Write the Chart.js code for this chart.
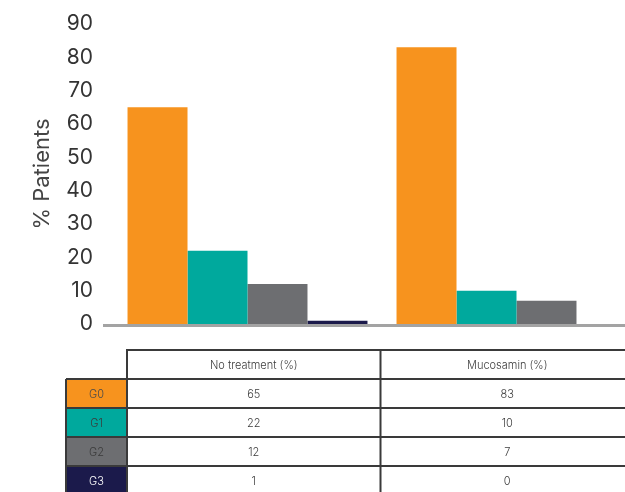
<!DOCTYPE html>
<html>
<head>
<meta charset="utf-8">
<script src="https://cdn.jsdelivr.net/npm/chart.js@4/dist/chart.umd.min.js"></script>
<style>
  html, body { margin: 0; padding: 0; background: #fff; overflow: hidden; }
  #wrap { width: 680px; height: 492px; }
</style>
</head>
<body>
<div id="wrap"><canvas id="chart" width="680" height="492"></canvas></div>
<script>
var categories = ['No treatment (%)', 'Mucosamin (%)'];
var grades = ['G0', 'G1', 'G2', 'G3'];
var g0 = [65, 83];
var g1 = [22, 10];
var g2 = [12, 7];
var g3 = [1, 0];
var gradeColors = ['#F7931E', '#00A99D', '#6D6E71', '#1B1A4B'];
var gradeTextColors = ['#4a4a4a', '#3a3a3a', '#3a3a3a', '#ffffff'];

var FONT = 'Inter, "DejaVu Sans", sans-serif';

// baseline + data table under the plot
var tablePlugin = {
	id: 'tablePlugin',
	afterDraw: function(chart) {
		var ctx = chart.ctx;
		var y = chart.scales.y;
		var x = chart.scales.x;
		var zeroY = y.getPixelForValue(0);

		ctx.save();
		// grey baseline
		ctx.fillStyle = '#a3a3a3';
		ctx.fillRect(103, zeroY, chart.width - 103, 3);

		var left = 127;
		var mid = (x.getPixelForValue(0) + x.getPixelForValue(1)) / 2 - 1.5;
		var colW = mid - left;
		var right = mid + colW;
		var labelLeft = 66;
		var top = 350;
		var rowH = 29;
		var nRows = grades.length;

		// grade label cells
		for (var i = 0; i < nRows; i++) {
			ctx.fillStyle = gradeColors[i];
			ctx.fillRect(labelLeft, top + rowH * (i + 1), left - labelLeft, rowH);
		}

		ctx.strokeStyle = '#3a3a3a';
		ctx.lineWidth = 2;
		ctx.beginPath();
		ctx.moveTo(left, top + rowH * (nRows + 1) + 5);
		ctx.lineTo(left, top);
		ctx.lineTo(right, top);
		ctx.moveTo(mid, top);
		ctx.lineTo(mid, top + rowH * (nRows + 1) + 5);
		ctx.moveTo(right, top);
		ctx.lineTo(right, top + rowH * (nRows + 1) + 5);
		for (var r = 1; r <= nRows + 1; r++) {
			ctx.moveTo(labelLeft, top + rowH * r);
			ctx.lineTo(right, top + rowH * r);
		}
		ctx.moveTo(labelLeft, top + rowH);
		ctx.lineTo(labelLeft, top + rowH * (nRows + 1) + 5);
		ctx.stroke();

		ctx.textAlign = 'center';
		ctx.textBaseline = 'middle';
		ctx.font = '300 11px ' + FONT;
		var centers = [left + colW / 2, mid + colW / 2];
		ctx.fillStyle = '#3c3c3c';
		for (var c = 0; c < categories.length; c++) {
			ctx.fillText(categories[c], centers[c], top + rowH / 2 + 1);
		}
		for (var k = 0; k < nRows; k++) {
			var cy = top + rowH * (k + 1) + rowH / 2 + 1;
			ctx.fillStyle = gradeTextColors[k];
			ctx.fillText(grades[k], (labelLeft + left) / 2, cy);
			ctx.fillStyle = '#3c3c3c';
			var vals = chart.data.datasets[k].data;
			for (var c2 = 0; c2 < vals.length; c2++) {
				ctx.fillText(String(vals[c2]), centers[c2], cy);
			}
		}
		ctx.restore();
	}
};

window.onload = function(){
	var ctx = document.getElementById('chart').getContext('2d');
	window.myBar = new Chart(ctx, {
		type: 'bar',
		data: {
			labels: categories,
			datasets: [
				{ label: grades[0], data: g0, backgroundColor: gradeColors[0] },
				{ label: grades[1], data: g1, backgroundColor: gradeColors[1] },
				{ label: grades[2], data: g2, backgroundColor: gradeColors[2] },
				{ label: grades[3], data: g3, backgroundColor: gradeColors[3] }
			]
		},
		plugins: [tablePlugin],
		options: {
			responsive: false,
			animation: false,
			layout: { padding: { top: 24, right: 29, bottom: 168, left: 0 } },
			datasets: {
				bar: { categoryPercentage: 0.892, barPercentage: 1.0 }
			},
			scales: {
				x: { display: false },
				y: {
					min: 0,
					max: 90,
					ticks: {
						stepSize: 10,
						padding: 20,
						color: '#333',
						font: { family: FONT, size: 21 }
					},
					grid: { display: false, drawTicks: false },
					border: { display: false },
					title: {
						display: true,
						text: '% Patients',
						color: '#444',
						font: { family: FONT, size: 22 },
						padding: { top: 29, bottom: 0 }
					},
					afterFit: function(scale) {
						scale.width = 113;
						scale.paddingTop = 0;
						scale.paddingBottom = 0;
					}
				}
			},
			plugins: {
				legend: { display: false },
				tooltip: { enabled: false }
			}
		}
	});
}
</script>
</body>
</html>
